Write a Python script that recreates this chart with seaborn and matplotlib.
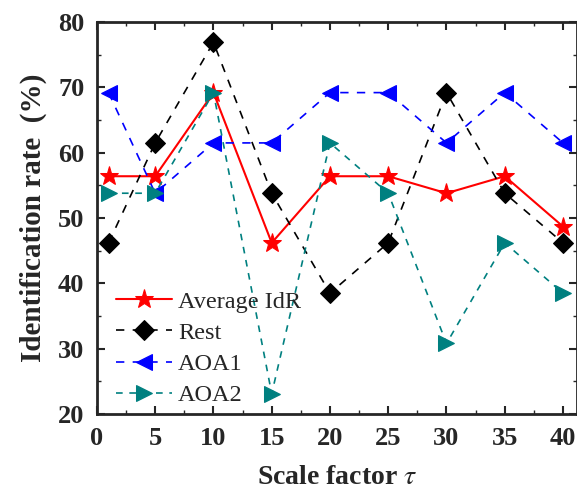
import matplotlib
matplotlib.use("Agg")
import matplotlib.pyplot as plt
from matplotlib.ticker import MultipleLocator
import seaborn as sns
import pandas as pd

scale = [1, 5, 10, 15, 20, 25, 30, 35, 40]
avg_idr = [56.4, 56.4, 69.2, 46.2, 56.4, 56.4, 53.8, 56.4, 48.7]
rest = [46.2, 61.5, 76.9, 53.8, 38.5, 46.2, 69.2, 53.8, 46.2]
aoa1 = [69.2, 53.8, 61.5, 61.5, 69.2, 69.2, 61.5, 69.2, 61.5]
aoa2 = [53.8, 53.8, 69.2, 23.1, 61.5, 53.8, 30.8, 46.2, 38.5]

series = [
    ("Average IdR", avg_idr, "#ff0000", "*", "-", 14),
    ("Rest", rest, "#000000", "D", (0, (5, 5)), 10),
    ("AOA1", aoa1, "#0000ff", "<", (0, (5, 5)), 12),
    ("AOA2", aoa2, "#008080", ">", (0, (4, 4)), 12),
]

sns.set_style("ticks")
plt.rcParams["font.family"] = ["Liberation Serif", "DejaVu Serif"]
plt.rcParams["mathtext.fontset"] = "stix"

fig = plt.figure(figsize=(5.77, 4.90), dpi=100)
ax = fig.add_axes([0.168, 0.155, 0.832, 0.80])

for name, vals, color, marker, ls, ms in series:
    df = pd.DataFrame({"x": scale, "y": vals})
    sns.lineplot(data=df, x="x", y="y", ax=ax, color=color, marker=marker,
                 markersize=ms, markeredgecolor=color, linestyle=ls,
                 linewidth=1.5 if name == "Average IdR" else 1.2, label=name)

ax.set_xlim(0, 41.2)
ax.set_ylim(20, 80)
ax.xaxis.set_major_locator(MultipleLocator(5))
ax.xaxis.set_minor_locator(MultipleLocator(2.5))
ax.yaxis.set_major_locator(MultipleLocator(10))
ax.yaxis.set_minor_locator(MultipleLocator(5))
ax.tick_params(which="major", direction="in", length=6, width=1.5, top=True, right=True,
               labelsize=19, pad=9)
ax.tick_params(which="minor", direction="in", length=3, width=1, top=True, right=True)
for lbl in ax.get_xticklabels() + ax.get_yticklabels():
    lbl.set_fontweight("bold")
for sp in ax.spines.values():
    sp.set_linewidth(2)

ax.set_xlabel(r"Scale factor $\tau$", fontsize=20, fontweight="bold", labelpad=11)
ax.set_ylabel("Identification rate  (%)", fontsize=21, fontweight="bold", labelpad=8)

leg = ax.legend(loc="lower left", bbox_to_anchor=(0.02, -0.005), frameon=False,
                fontsize=17.5, handlelength=2.3, handletextpad=0.25, labelspacing=0.38,
                borderaxespad=0)
fig.savefig("out.png", dpi=100)
